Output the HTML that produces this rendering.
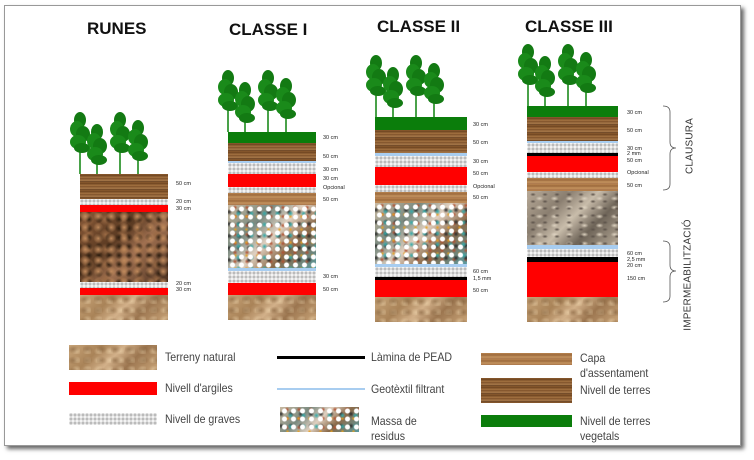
<!DOCTYPE html>
<html><head><meta charset="utf-8"><style>
*{margin:0;padding:0;box-sizing:border-box}
body{width:754px;height:460px;background:#fff;position:relative;overflow:hidden;font-family:"Liberation Sans",Arial,sans-serif}
.frame{position:absolute;left:4px;top:5px;width:737px;height:441px;border:1px solid #999;box-shadow:3px 3px 4px #666;background:#fff}
.a{position:absolute}
.t{position:absolute;font-weight:bold;font-size:17px;color:#111;white-space:nowrap}
.g{background:#0b7d0b}
.b{background:repeating-linear-gradient(180deg,#8a5a2e 0,#6e4420 2px,#a87744 3px,#7a4e28 5px,#b58552 6px,#5e3a1c 8px)}
.c{background:repeating-linear-gradient(180deg,#b98550 0,#9c6a3c 2px,#c4935e 4px,#a8744a 6px)}
.gr{background-color:#f4f4f4;background-image:radial-gradient(circle,#bbb 1.3px,transparent 1.8px);background-size:4px 4px}
.r{background:#ff0000}
.bl{background:#a8cdf0}
.k{background:#000}
.n{background:radial-gradient(ellipse at 30% 40%,rgba(120,85,50,.5) 0,transparent 6px) 0 0/14px 11px,radial-gradient(ellipse at 70% 70%,rgba(235,210,170,.6) 0,transparent 5px) 0 0/11px 9px,linear-gradient(135deg,#c8a57a,#a98358 30%,#d2b089 50%,#9c7650 70%,#c7a276)}
.ru{background:radial-gradient(circle at 40% 40%,#c08a5c 0,transparent 5px) 0 0/13px 11px,radial-gradient(circle at 60% 60%,#2e1e10 0,transparent 4px) 3px 2px/10px 9px,radial-gradient(circle at 50% 50%,#9a6a44 0,transparent 6px) 0 0/17px 15px,linear-gradient(135deg,#8a5a38,#5a3a22 40%,#a07050 60%,#4a3020)}
.w{background:radial-gradient(circle,#fff 0,#fff 2px,transparent 3px) 0 0/9px 8px,radial-gradient(circle,#3aa 0,transparent 3px) 4px 3px/13px 11px,radial-gradient(circle,#e8a020 0,transparent 2px) 2px 5px/11px 13px,radial-gradient(circle,#2a2a2a 0,transparent 3px) 6px 1px/10px 12px,radial-gradient(circle,#b05030 0,transparent 2.5px) 1px 7px/12px 9px,linear-gradient(135deg,#c9b8a0,#7a8a80 30%,#e0d0c0 50%,#8a6a4a 70%,#5a9aa0)}
.d{background:radial-gradient(ellipse,#5a5048 0,transparent 3px) 0 0/12px 7px,radial-gradient(ellipse,#ddd2c0 0,transparent 4px) 5px 3px/15px 9px,linear-gradient(135deg,#b8aa98,#8a7e70 30%,#c8bcaa 50%,#6e6458 70%,#b4a896)}
.l{position:absolute;font-size:5.5px;color:#222;white-space:nowrap;line-height:6px}
.lg{position:absolute;font-size:12px;color:#444;white-space:nowrap;line-height:15px;transform:scaleX(.88);transform-origin:left}
.v{position:absolute;font-size:10px;color:#333;white-space:nowrap;transform:translate(-50%,-50%) rotate(-90deg);letter-spacing:.2px}
</style></head><body>
<div class="frame"></div>
<div class="t" style="left:87px;top:19px">RUNES</div>
<div class="t" style="left:229px;top:20px">CLASSE I</div>
<div class="t" style="left:377px;top:17px">CLASSE II</div>
<div class="t" style="left:525px;top:17px">CLASSE III</div>

<svg class="a" style="left:0;top:0" width="754" height="460">
<defs>
<g id="tr"><line x1="0" y1="10" x2="0" y2="62" stroke="#1c8a1c" stroke-width="1.6"/>
<ellipse cx="0" cy="8" rx="6" ry="8" fill="#137a13"/><ellipse cx="-3" cy="17" rx="7" ry="8" fill="#1a8a1a"/><ellipse cx="3" cy="22" rx="7" ry="8" fill="#137a13"/><ellipse cx="-2" cy="30" rx="8" ry="7" fill="#1a8a1a"/><ellipse cx="2" cy="36" rx="8" ry="5" fill="#137a13"/></g>
</defs>
<g transform="translate(70,112)"><use href="#tr" x="10" y="0"/><use href="#tr" x="27" y="12"/><use href="#tr" x="50" y="0"/><use href="#tr" x="68" y="8"/></g>
<g transform="translate(218,70)"><use href="#tr" x="10" y="0"/><use href="#tr" x="27" y="12"/><use href="#tr" x="50" y="0"/><use href="#tr" x="68" y="8"/></g>
<g transform="translate(366,55)"><use href="#tr" x="10" y="0"/><use href="#tr" x="27" y="12"/><use href="#tr" x="50" y="0"/><use href="#tr" x="68" y="8"/></g>
<g transform="translate(518,44)"><use href="#tr" x="10" y="0"/><use href="#tr" x="27" y="12"/><use href="#tr" x="50" y="0"/><use href="#tr" x="68" y="8"/></g>
<path d="M663,106 Q670,106 670,112 L670,142 Q670,148 676,148 Q670,148 670,154 L670,184 Q670,190 663,190" fill="none" stroke="#555" stroke-width="0.8"/>
<path d="M663,241 Q670,241 670,247 L670,265 Q670,271 676,271 Q670,271 670,277 L670,296 Q670,302 663,302" fill="none" stroke="#555" stroke-width="0.8"/>
</svg>

<!-- Col1 -->
<div class="a b" style="left:80px;top:174px;width:88px;height:25px"></div>
<div class="a gr" style="left:80px;top:199px;width:88px;height:6px"></div>
<div class="a r" style="left:80px;top:205px;width:88px;height:7px"></div>
<div class="a ru" style="left:80px;top:212px;width:88px;height:70px"></div>
<div class="a gr" style="left:80px;top:282px;width:88px;height:6px"></div>
<div class="a r" style="left:80px;top:288px;width:88px;height:7px"></div>
<div class="a n" style="left:80px;top:295px;width:88px;height:25px"></div>
<div class="l" style="left:176px;top:181px">50 cm</div>
<div class="l" style="left:176px;top:199px">20 cm</div>
<div class="l" style="left:176px;top:206px">30 cm</div>
<div class="l" style="left:176px;top:281px">20 cm</div>
<div class="l" style="left:176px;top:287px">30 cm</div>

<!-- Col2 -->
<div class="a g" style="left:228px;top:132px;width:88px;height:11px"></div>
<div class="a b" style="left:228px;top:143px;width:88px;height:18px"></div>
<div class="a bl" style="left:228px;top:161px;width:88px;height:2px"></div>
<div class="a gr" style="left:228px;top:163px;width:88px;height:11px"></div>
<div class="a r" style="left:228px;top:174px;width:88px;height:13px"></div>
<div class="a gr" style="left:228px;top:187px;width:88px;height:6px"></div>
<div class="a c" style="left:228px;top:193px;width:88px;height:12px"></div>
<div class="a w" style="left:228px;top:205px;width:88px;height:63px"></div>
<div class="a bl" style="left:228px;top:268px;width:88px;height:3px"></div>
<div class="a gr" style="left:228px;top:271px;width:88px;height:12px"></div>
<div class="a r" style="left:228px;top:283px;width:88px;height:12px"></div>
<div class="a n" style="left:228px;top:295px;width:88px;height:25px"></div>
<div class="l" style="left:323px;top:135px">30 cm</div>
<div class="l" style="left:323px;top:154px">50 cm</div>
<div class="l" style="left:323px;top:167px">30 cm</div>
<div class="l" style="left:323px;top:176px">30 cm</div>
<div class="l" style="left:323px;top:185px">Opcional</div>
<div class="l" style="left:323px;top:197px">50 cm</div>
<div class="l" style="left:323px;top:274px">30 cm</div>
<div class="l" style="left:323px;top:287px">50 cm</div>

<!-- Col3 -->
<div class="a g" style="left:375px;top:117px;width:92px;height:13px"></div>
<div class="a b" style="left:375px;top:130px;width:92px;height:23px"></div>
<div class="a bl" style="left:375px;top:153px;width:92px;height:3px"></div>
<div class="a gr" style="left:375px;top:156px;width:92px;height:11px"></div>
<div class="a r" style="left:375px;top:167px;width:92px;height:18px"></div>
<div class="a gr" style="left:375px;top:185px;width:92px;height:7px"></div>
<div class="a c" style="left:375px;top:192px;width:92px;height:11px"></div>
<div class="a w" style="left:375px;top:203px;width:92px;height:61px"></div>
<div class="a bl" style="left:375px;top:264px;width:92px;height:3px"></div>
<div class="a gr" style="left:375px;top:267px;width:92px;height:10px"></div>
<div class="a k" style="left:375px;top:277px;width:92px;height:3px"></div>
<div class="a r" style="left:375px;top:280px;width:92px;height:17px"></div>
<div class="a n" style="left:375px;top:297px;width:92px;height:25px"></div>
<div class="l" style="left:473px;top:122px">30 cm</div>
<div class="l" style="left:473px;top:140px">50 cm</div>
<div class="l" style="left:473px;top:159px">30 cm</div>
<div class="l" style="left:473px;top:171px">50 cm</div>
<div class="l" style="left:473px;top:184px">Opcional</div>
<div class="l" style="left:473px;top:195px">50 cm</div>
<div class="l" style="left:473px;top:269px">60 cm</div>
<div class="l" style="left:473px;top:276px">1,5 mm</div>
<div class="l" style="left:473px;top:288px">50 cm</div>

<!-- Col4 -->
<div class="a g" style="left:527px;top:106px;width:91px;height:11px"></div>
<div class="a b" style="left:527px;top:117px;width:91px;height:24px"></div>
<div class="a bl" style="left:527px;top:141px;width:91px;height:2px"></div>
<div class="a gr" style="left:527px;top:143px;width:91px;height:10px"></div>
<div class="a k" style="left:527px;top:153px;width:91px;height:3px"></div>
<div class="a r" style="left:527px;top:156px;width:91px;height:16px"></div>
<div class="a gr" style="left:527px;top:172px;width:91px;height:6px"></div>
<div class="a c" style="left:527px;top:178px;width:91px;height:13px"></div>
<div class="a d" style="left:527px;top:191px;width:91px;height:54px"></div>
<div class="a bl" style="left:527px;top:245px;width:91px;height:4px"></div>
<div class="a gr" style="left:527px;top:249px;width:91px;height:8px"></div>
<div class="a k" style="left:527px;top:257px;width:91px;height:5px"></div>
<div class="a r" style="left:527px;top:262px;width:91px;height:35px"></div>
<div class="a n" style="left:527px;top:297px;width:91px;height:25px"></div>
<div class="l" style="left:627px;top:110px">30 cm</div>
<div class="l" style="left:627px;top:128px">50 cm</div>
<div class="l" style="left:627px;top:146px">30 cm</div>
<div class="l" style="left:627px;top:151px">2 mm</div>
<div class="l" style="left:627px;top:158px">50 cm</div>
<div class="l" style="left:627px;top:170px">Opcional</div>
<div class="l" style="left:627px;top:183px">50 cm</div>
<div class="l" style="left:627px;top:251px">60 cm</div>
<div class="l" style="left:627px;top:257px">2,5 mm</div>
<div class="l" style="left:627px;top:263px">20 cm</div>
<div class="l" style="left:627px;top:276px">150 cm</div>

<div class="v" style="left:690px;top:146px">CLAUSURA</div>
<div class="v" style="left:688px;top:275px">IMPERMEABILITZACIÓ</div>

<!-- Legend -->
<div class="a n" style="left:69px;top:345px;width:88px;height:25px"></div>
<div class="lg" style="left:165px;top:350px">Terreny natural</div>
<div class="a r" style="left:69px;top:382px;width:88px;height:13px"></div>
<div class="lg" style="left:165px;top:381px">Nivell d'argiles</div>
<div class="a gr" style="left:69px;top:413px;width:88px;height:12px"></div>
<div class="lg" style="left:165px;top:412px">Nivell de graves</div>
<div class="a k" style="left:277px;top:356px;width:88px;height:3px"></div>
<div class="lg" style="left:371px;top:350px">Làmina de PEAD</div>
<div class="a bl" style="left:277px;top:388px;width:88px;height:2px"></div>
<div class="lg" style="left:371px;top:382px">Geotèxtil filtrant</div>
<div class="a w" style="left:280px;top:407px;width:79px;height:25px"></div>
<div class="lg" style="left:371px;top:414px">Massa de<br>residus</div>
<div class="a c" style="left:481px;top:353px;width:91px;height:12px"></div>
<div class="lg" style="left:580px;top:351px">Capa<br>d'assentament</div>
<div class="a b" style="left:481px;top:378px;width:91px;height:25px"></div>
<div class="lg" style="left:580px;top:383px">Nivell de terres</div>
<div class="a g" style="left:481px;top:415px;width:91px;height:12px"></div>
<div class="lg" style="left:580px;top:414px">Nivell de terres<br>vegetals</div>
</body></html>
